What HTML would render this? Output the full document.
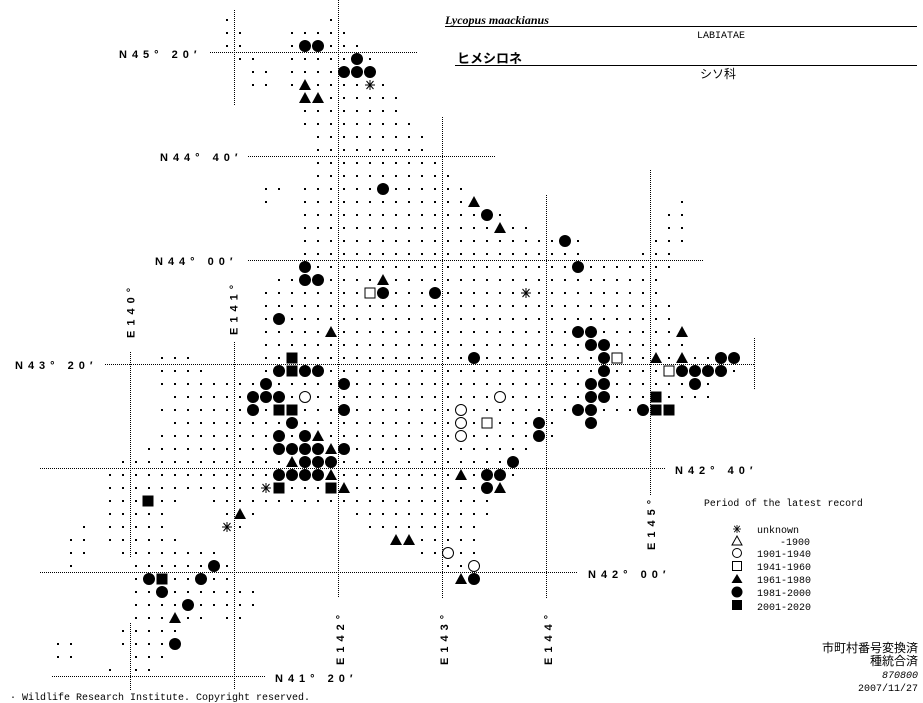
<!DOCTYPE html>
<html><head><meta charset="utf-8"><style>
html,body{margin:0;padding:0;background:#fff;}
svg{display:block;}
.lab{font-family:"Liberation Sans",sans-serif;font-weight:bold;font-size:11px;letter-spacing:5px;fill:#000;}
.mono{font-family:"Liberation Mono",monospace;font-size:10px;fill:#000;}
.jp{font-family:"Liberation Sans","Noto Sans CJK JP",sans-serif;font-size:12px;fill:#000;}
</style></head><body>
<svg width="923" height="703" viewBox="0 0 923 703" xmlns="http://www.w3.org/2000/svg">
<defs>
<pattern id="d" patternUnits="userSpaceOnUse" x="0" y="0" width="13" height="13"><rect x="5" y="6" width="2" height="2" fill="#000"/></pattern>
<circle id="c" r="6" fill="#000"/>
<circle id="oc" r="5.5" fill="#fff" stroke="#000" stroke-width="1"/>
<rect id="s" x="-5.5" y="-5.5" width="11" height="11" fill="#000"/>
<rect id="os" x="-5" y="-5" width="10" height="10" fill="#fff" stroke="#000" stroke-width="1"/>
<polygon id="t" points="-6,5 6,5 0,-6" fill="#000"/>
<g id="st" stroke="#000" stroke-width="1"><rect x="-5" y="-5" width="10" height="10" fill="#fff" stroke="none"/><line x1="-5" y1="0" x2="5" y2="0"/><line x1="-3.5" y1="-4" x2="3.5" y2="4"/><line x1="-3.5" y1="4" x2="3.5" y2="-4"/><line x1="0" y1="-5" x2="0" y2="5"/></g>
</defs>

<g stroke="#000" stroke-width="1" stroke-dasharray="1,1" fill="none">
<line x1="210" y1="52.5" x2="417" y2="52.5"/>
<line x1="248" y1="156.5" x2="495" y2="156.5"/>
<line x1="248" y1="260.5" x2="703" y2="260.5"/>
<line x1="105" y1="364.5" x2="755" y2="364.5"/>
<line x1="40" y1="468.5" x2="665" y2="468.5"/>
<line x1="40" y1="572.5" x2="577" y2="572.5"/>
<line x1="52" y1="676.5" x2="265" y2="676.5"/>
<line x1="130.5" y1="352" x2="130.5" y2="558"/>
<line x1="130.5" y1="623" x2="130.5" y2="690"/>
<line x1="234.5" y1="10" x2="234.5" y2="105"/>
<line x1="234.5" y1="342" x2="234.5" y2="690"/>
<line x1="338.5" y1="0" x2="338.5" y2="598"/>
<line x1="442.5" y1="117" x2="442.5" y2="598"/>
<line x1="546.5" y1="195" x2="546.5" y2="598"/>
<line x1="650.5" y1="170" x2="650.5" y2="495"/>
<line x1="754.5" y1="338" x2="754.5" y2="390"/>
</g>

<g fill="url(#d)">
<rect x="221" y="13" width="13" height="13"/><rect x="325" y="13" width="13" height="13"/>
<rect x="221" y="26" width="26" height="13"/><rect x="286" y="26" width="65" height="13"/>
<rect x="221" y="39" width="26" height="13"/><rect x="286" y="39" width="78" height="13"/>
<rect x="234" y="52" width="26" height="13"/><rect x="286" y="52" width="91" height="13"/>
<rect x="247" y="65" width="26" height="13"/><rect x="286" y="65" width="91" height="13"/>
<rect x="247" y="78" width="26" height="13"/><rect x="286" y="78" width="104" height="13"/>
<rect x="299" y="91" width="104" height="13"/>
<rect x="299" y="104" width="104" height="13"/>
<rect x="299" y="117" width="117" height="13"/>
<rect x="312" y="130" width="117" height="13"/>
<rect x="312" y="143" width="117" height="13"/>
<rect x="312" y="156" width="130" height="13"/>
<rect x="312" y="169" width="143" height="13"/>
<rect x="260" y="182" width="26" height="13"/><rect x="299" y="182" width="169" height="13"/>
<rect x="260" y="195" width="13" height="13"/><rect x="299" y="195" width="182" height="13"/><rect x="676" y="195" width="13" height="13"/>
<rect x="299" y="208" width="208" height="13"/><rect x="663" y="208" width="26" height="13"/>
<rect x="299" y="221" width="234" height="13"/><rect x="663" y="221" width="26" height="13"/>
<rect x="299" y="234" width="286" height="13"/><rect x="650" y="234" width="39" height="13"/>
<rect x="299" y="247" width="286" height="13"/><rect x="637" y="247" width="39" height="13"/>
<rect x="299" y="260" width="377" height="13"/>
<rect x="273" y="273" width="390" height="13"/>
<rect x="260" y="286" width="403" height="13"/>
<rect x="260" y="299" width="416" height="13"/>
<rect x="260" y="312" width="416" height="13"/>
<rect x="260" y="325" width="429" height="13"/>
<rect x="260" y="338" width="429" height="13"/>
<rect x="156" y="351" width="39" height="13"/><rect x="260" y="351" width="481" height="13"/>
<rect x="156" y="364" width="52" height="13"/><rect x="260" y="364" width="481" height="13"/>
<rect x="156" y="377" width="559" height="13"/>
<rect x="169" y="390" width="546" height="13"/>
<rect x="156" y="403" width="520" height="13"/>
<rect x="169" y="416" width="390" height="13"/>
<rect x="156" y="429" width="403" height="13"/>
<rect x="143" y="442" width="390" height="13"/>
<rect x="117" y="455" width="403" height="13"/>
<rect x="104" y="468" width="416" height="13"/>
<rect x="104" y="481" width="403" height="13"/>
<rect x="104" y="494" width="78" height="13"/><rect x="208" y="494" width="286" height="13"/>
<rect x="104" y="507" width="65" height="13"/><rect x="221" y="507" width="39" height="13"/><rect x="351" y="507" width="143" height="13"/>
<rect x="78" y="520" width="13" height="13"/><rect x="104" y="520" width="65" height="13"/><rect x="221" y="520" width="26" height="13"/><rect x="364" y="520" width="117" height="13"/>
<rect x="65" y="533" width="26" height="13"/><rect x="104" y="533" width="78" height="13"/><rect x="390" y="533" width="91" height="13"/>
<rect x="65" y="546" width="26" height="13"/><rect x="117" y="546" width="104" height="13"/><rect x="416" y="546" width="65" height="13"/>
<rect x="65" y="559" width="13" height="13"/><rect x="130" y="559" width="104" height="13"/><rect x="442" y="559" width="39" height="13"/>
<rect x="130" y="572" width="104" height="13"/><rect x="455" y="572" width="26" height="13"/>
<rect x="130" y="585" width="130" height="13"/>
<rect x="130" y="598" width="130" height="13"/>
<rect x="130" y="611" width="78" height="13"/><rect x="221" y="611" width="26" height="13"/>
<rect x="117" y="624" width="65" height="13"/>
<rect x="52" y="637" width="26" height="13"/><rect x="117" y="637" width="65" height="13"/>
<rect x="52" y="650" width="26" height="13"/><rect x="130" y="650" width="39" height="13"/>
<rect x="104" y="663" width="13" height="13"/><rect x="130" y="663" width="26" height="13"/>
</g>

<g>
<use href="#c" x="305" y="46"/><use href="#c" x="318" y="46"/>
<use href="#c" x="357" y="59"/>
<use href="#c" x="344" y="72"/><use href="#c" x="357" y="72"/><use href="#c" x="370" y="72"/>
<use href="#t" x="305" y="85"/><use href="#st" x="370" y="85"/>
<use href="#t" x="305" y="98"/><use href="#t" x="318" y="98"/>
<use href="#c" x="383" y="189"/>
<use href="#t" x="474" y="202"/>
<use href="#c" x="487" y="215"/>
<use href="#t" x="500" y="228"/>
<use href="#c" x="565" y="241"/>
<use href="#c" x="305" y="267"/><use href="#c" x="578" y="267"/>
<use href="#c" x="305" y="280"/><use href="#c" x="318" y="280"/><use href="#t" x="383" y="280"/>
<use href="#os" x="370" y="293"/><use href="#c" x="383" y="293"/><use href="#c" x="435" y="293"/><use href="#st" x="526" y="293"/>
<use href="#c" x="279" y="319"/>
<use href="#t" x="331" y="332"/><use href="#c" x="578" y="332"/><use href="#c" x="591" y="332"/><use href="#t" x="682" y="332"/>
<use href="#c" x="591" y="345"/><use href="#c" x="604" y="345"/>
<use href="#s" x="292" y="358"/><use href="#c" x="474" y="358"/><use href="#c" x="604" y="358"/><use href="#os" x="617" y="358"/><use href="#t" x="656" y="358"/><use href="#t" x="682" y="358"/><use href="#c" x="721" y="358"/><use href="#c" x="734" y="358"/>
<use href="#c" x="279" y="371"/><use href="#s" x="292" y="371"/><use href="#c" x="305" y="371"/><use href="#c" x="318" y="371"/><use href="#c" x="604" y="371"/><use href="#os" x="669" y="371"/><use href="#c" x="682" y="371"/><use href="#c" x="695" y="371"/><use href="#c" x="708" y="371"/><use href="#c" x="721" y="371"/>
<use href="#c" x="266" y="384"/><use href="#c" x="344" y="384"/><use href="#c" x="591" y="384"/><use href="#c" x="604" y="384"/><use href="#c" x="695" y="384"/>
<use href="#c" x="253" y="397"/><use href="#c" x="266" y="397"/><use href="#c" x="279" y="397"/><use href="#oc" x="305" y="397"/><use href="#oc" x="500" y="397"/><use href="#c" x="591" y="397"/><use href="#c" x="604" y="397"/><use href="#s" x="656" y="397"/>
<use href="#c" x="253" y="410"/><use href="#s" x="279" y="410"/><use href="#s" x="292" y="410"/><use href="#c" x="344" y="410"/><use href="#oc" x="461" y="410"/><use href="#c" x="578" y="410"/><use href="#c" x="591" y="410"/><use href="#c" x="643" y="410"/><use href="#s" x="656" y="410"/><use href="#s" x="669" y="410"/>
<use href="#c" x="292" y="423"/><use href="#oc" x="461" y="423"/><use href="#os" x="487" y="423"/><use href="#c" x="539" y="423"/><use href="#c" x="591" y="423"/>
<use href="#c" x="279" y="436"/><use href="#c" x="305" y="436"/><use href="#t" x="318" y="436"/><use href="#oc" x="461" y="436"/><use href="#c" x="539" y="436"/>
<use href="#c" x="279" y="449"/><use href="#c" x="292" y="449"/><use href="#c" x="305" y="449"/><use href="#c" x="318" y="449"/><use href="#t" x="331" y="449"/><use href="#c" x="344" y="449"/>
<use href="#t" x="292" y="462"/><use href="#c" x="305" y="462"/><use href="#c" x="318" y="462"/><use href="#c" x="331" y="462"/><use href="#c" x="513" y="462"/>
<use href="#c" x="279" y="475"/><use href="#c" x="292" y="475"/><use href="#c" x="305" y="475"/><use href="#c" x="318" y="475"/><use href="#t" x="331" y="475"/><use href="#t" x="461" y="475"/><use href="#c" x="487" y="475"/><use href="#c" x="500" y="475"/>
<use href="#st" x="266" y="488"/><use href="#s" x="279" y="488"/><use href="#s" x="331" y="488"/><use href="#t" x="344" y="488"/><use href="#c" x="487" y="488"/><use href="#t" x="500" y="488"/>
<use href="#s" x="148" y="501"/>
<use href="#t" x="240" y="514"/>
<use href="#st" x="227" y="527"/>
<use href="#t" x="396" y="540"/><use href="#t" x="409" y="540"/>
<use href="#oc" x="448" y="553"/>
<use href="#c" x="214" y="566"/><use href="#oc" x="474" y="566"/>
<use href="#c" x="149" y="579"/><use href="#s" x="162" y="579"/><use href="#c" x="201" y="579"/><use href="#t" x="461" y="579"/><use href="#c" x="474" y="579"/>
<use href="#c" x="162" y="592"/>
<use href="#c" x="188" y="605"/>
<use href="#t" x="175" y="618"/>
<use href="#c" x="175" y="644"/>
</g>

<text class="lab" x="119" y="58">N45° 20′</text>
<text class="lab" x="160" y="161">N44° 40′</text>
<text class="lab" x="155" y="265">N44° 00′</text>
<text class="lab" x="15" y="369">N43° 20′</text>
<text class="lab" x="675" y="474">N42° 40′</text>
<text class="lab" x="588" y="578">N42° 00′</text>
<text class="lab" x="275" y="682">N41° 20′</text>
<text class="lab" transform="translate(134.5,338) rotate(-90)">E140°</text>
<text class="lab" transform="translate(237.5,335) rotate(-90)">E141°</text>
<text class="lab" transform="translate(344,665) rotate(-90)">E142°</text>
<text class="lab" transform="translate(448,665) rotate(-90)">E143°</text>
<text class="lab" transform="translate(552,665) rotate(-90)">E144°</text>
<text class="lab" transform="translate(655,550) rotate(-90)">E145°</text>

<text x="445" y="24" style="font-family:'Liberation Serif',serif;font-weight:bold;font-style:italic;font-size:12px;">Lycopus maackianus</text>
<line x1="445" y1="26.5" x2="917" y2="26.5" stroke="#000"/>
<text class="mono" x="697" y="38">LABIATAE</text>
<text class="jp" x="457" y="63" style="font-weight:bold;font-size:13px">ヒメシロネ</text>
<line x1="455" y1="65.5" x2="917" y2="65.5" stroke="#000"/>
<text class="jp" x="700" y="78">シソ科</text>

<text class="mono" x="704" y="506" style="font-size:9.8px">Period of the latest record</text>
<g transform="translate(737,0)">
<g transform="translate(0,529) scale(0.8)"><use href="#st"/></g>
<polygon points="-5,545 5,545 0,536" fill="#fff" stroke="#000"/>
<circle cx="0" cy="553" r="4.5" fill="#fff" stroke="#000"/>
<rect x="-4.5" y="561.5" width="9" height="9" fill="#fff" stroke="#000"/>
<polygon points="-5.5,583 5.5,583 0,574" fill="#000"/>
<circle cx="0" cy="592" r="5.5" fill="#000"/>
<rect x="-5" y="600" width="10" height="10" fill="#000"/>
</g>
<text class="mono" x="757" y="533">unknown</text>
<text class="mono" x="810" y="545" text-anchor="end">-1900</text>
<text class="mono" x="757" y="557">1901-1940</text>
<text class="mono" x="757" y="570">1941-1960</text>
<text class="mono" x="757" y="583">1961-1980</text>
<text class="mono" x="757" y="596">1981-2000</text>
<text class="mono" x="757" y="610">2001-2020</text>

<text class="jp" x="918" y="652" text-anchor="end">市町村番号変換済</text>
<text class="jp" x="918" y="665" text-anchor="end">種統合済</text>
<text class="mono" x="918" y="678" text-anchor="end" style="font-style:italic">870800</text>
<text class="mono" x="918" y="691" text-anchor="end">2007/11/27</text>

<text class="mono" x="10" y="700">·  Wildlife Research Institute. Copyright reserved.</text>
</svg>
</body></html>
